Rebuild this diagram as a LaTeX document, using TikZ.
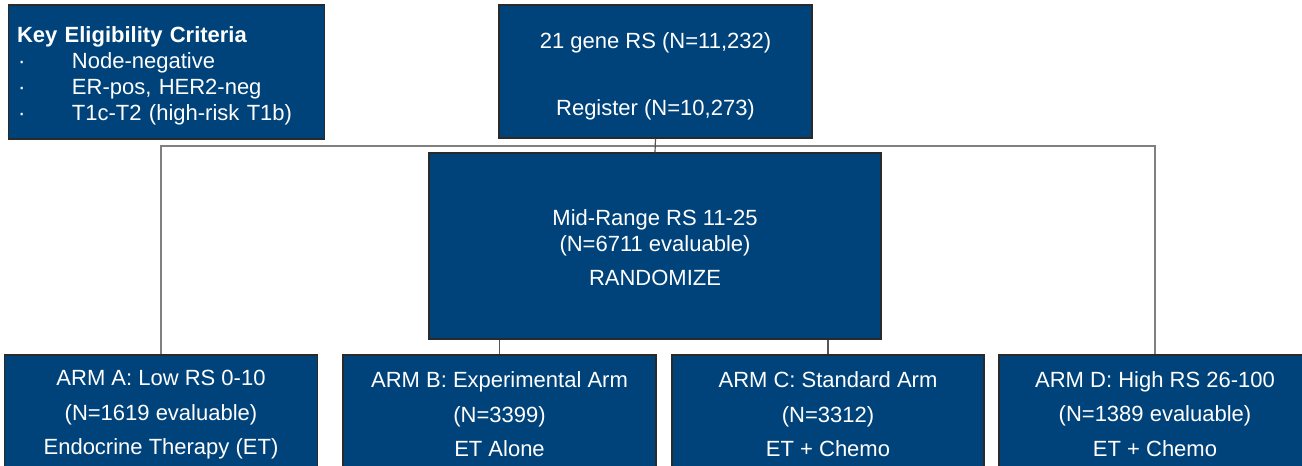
\documentclass[tikz,border=0pt]{standalone}
\usepackage{fontspec}
\setmainfont{Liberation Sans}
\definecolor{boxblue}{HTML}{00437A}
\definecolor{boxedge}{HTML}{2A2A2A}
\definecolor{linegray}{HTML}{808080}
\newcommand\toppad[1]{\rule{0pt}{#1}}
\begin{document}
\begin{tikzpicture}[x=1pt,y=-1pt,
  bluebox/.style={draw=boxedge, line width=1.2pt, fill=boxblue, text=white, inner sep=0pt, align=center},
  armbox/.style={bluebox, minimum width=313pt, minimum height=114pt, font=\fontsize{22}{34.5}\selectfont},
  conn/.style={draw=linegray, line width=1.5pt},
  stem/.style={draw=boxedge!80, line width=1.2pt}]
\useasboundingbox (0,0) rectangle (1302,466);
\clip (0,0) rectangle (1302,466);

\node[bluebox, align=left, text width=299pt, inner xsep=8.5pt, minimum height=134pt,
      font=\fontsize{22}{26}\selectfont] (key) at (166.5,72)
  {\toppad{24pt}\textbf{Key Eligibility Criteria}\\
   \makebox[55pt][l]{\hspace{1pt}·}Node-negative\\
   \makebox[55pt][l]{\hspace{1pt}·}ER-pos, HER2-neg\\
   \makebox[55pt][l]{\hspace{1pt}·}T1c-T2 (high-risk T1b)};

\node[bluebox, minimum width=313pt, minimum height=133pt, font=\fontsize{22}{26}\selectfont] (top) at (655.5,71.5)
  {\toppad{25pt}21 gene RS (N=11,232)\\[41pt]Register (N=10,273)};

\node[bluebox, minimum width=452pt, minimum height=186pt, font=\fontsize{22}{26}\selectfont] (mid) at (655,246)
  {\toppad{20pt}Mid-Range RS 11-25\\(N=6711 evaluable)\\[8pt]RANDOMIZE};

\node[armbox] (armA) at (161,412) {\toppad{21pt}ARM A: Low RS 0-10\\(N=1619 evaluable)\\Endocrine Therapy (ET)};
\node[armbox] (armB) at (499.5,412) {\toppad{21pt}ARM B: Experimental Arm\\(N=3399)\\ET Alone};
\node[armbox, minimum width=312pt] (armC) at (828,412) {\toppad{21pt}ARM C: Standard Arm\\(N=3312)\\ET + Chemo};
\node[armbox, minimum width=312pt] (armD) at (1155,412) {\toppad{20pt}ARM D: High RS 26-100\\(N=1389 evaluable)\\ET + Chemo};

\coordinate (bus) at (655,146);

\draw[conn] (armA.north) -- (armA.north |- bus) -- (armD.north |- bus) -- (armD.north);
\draw[stem] (top.south) -- (mid.north);
\draw[stem] (armB.north |- mid.south) -- (armB.north);
\draw[stem] (armC.north |- mid.south) -- (armC.north);
\end{tikzpicture}
\end{document}
